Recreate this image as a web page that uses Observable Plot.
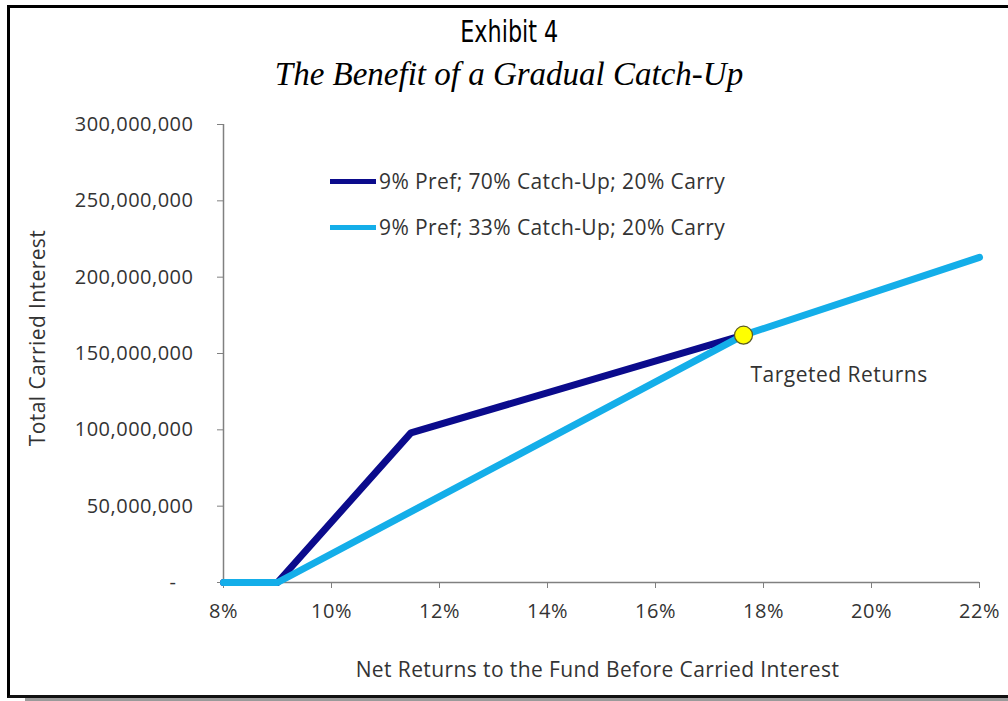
<!DOCTYPE html>
<html><head><meta charset="utf-8">
<script src="https://cdn.jsdelivr.net/npm/d3@7"></script>
<script src="https://cdn.jsdelivr.net/npm/@observablehq/plot@0.6"></script>
<style>
html,body{margin:0;padding:0;background:#fff;}
body{width:1008px;height:701px;overflow:hidden;position:relative;font-family:"Open Sans",sans-serif;color:#333;}
#frame{position:absolute;left:7px;top:5px;width:1010px;height:687px;border-left:3px solid #000;border-top:3px solid #000;border-bottom:3px solid #111;}
#shadow{position:absolute;left:25px;top:698px;width:990px;height:3px;background:#9a9a9a;}
#title{position:absolute;left:10px;width:998px;top:13px;text-align:center;color:#000;line-height:36px;}
#title span{display:inline-block;font-family:"DejaVu Sans Condensed","Liberation Sans Narrow",sans-serif;font-size:31px;transform:scaleX(0.8);transform-origin:center;}
#subtitle{position:absolute;left:10px;width:998px;top:55px;text-align:center;font-family:"Liberation Serif",serif;font-style:italic;font-size:33px;color:#000;line-height:38px;}
#chart{position:absolute;left:0;top:100px;}
#ytitle{position:absolute;left:37px;top:338px;transform:translate(-50%,-50%) rotate(-90deg);white-space:nowrap;font-size:21px;letter-spacing:0.4px;color:#333;}
#xtitle{position:absolute;left:0;width:1195px;top:655px;text-align:center;font-size:21px;letter-spacing:0.4px;color:#333;white-space:nowrap;}
.leg{position:absolute;left:330px;font-size:21px;letter-spacing:0.4px;color:#333;white-space:nowrap;display:flex;align-items:center;height:28px;}
.leg span.sw{display:inline-block;width:46px;height:5px;margin-right:3px;}
</style>
</head><body>
<div id="frame"></div>
<div id="shadow"></div>
<div id="title"><span>Exhibit 4</span></div>
<div id="subtitle">The Benefit of a Gradual Catch-Up</div>
<div id="chart"></div>
<div id="ytitle">Total Carried Interest</div>
<div id="xtitle">Net Returns to the Fund Before Carried Interest</div>
<div id="legend"></div>
<script>
// ---- data ----
const seriesNames = ["9% Pref; 70% Catch-Up; 20% Carry", "9% Pref; 33% Catch-Up; 20% Carry"];
const seriesColors = ["#0b0b8c", "#14aee9"];
const fastReturns = [8, 9, 11.47, 17.63];
const fastCarry = [0, 0, 98e6, 162e6];
const gradualReturns = [8, 9, 17.63, 22];
const gradualCarry = [0, 0, 162e6, 213e6];
const targetReturn = [17.63];
const targetCarry = [162e6];
const targetLabel = ["Targeted Returns"];
const xTicks = [8, 10, 12, 14, 16, 18, 20, 22];
const yTicks = [0, 50e6, 100e6, 150e6, 200e6, 250e6, 300e6];

const fast = fastReturns.map((r, i) => ({ret: r, carry: fastCarry[i]}));
const gradual = gradualReturns.map((r, i) => ({ret: r, carry: gradualCarry[i]}));
const target = targetReturn.map((r, i) => ({ret: r, carry: targetCarry[i], label: targetLabel[i]}));

const fmt = d3.format(",");
const xFmt = d => d + "%";
const yFmt = d => d === 0 ? "-\u00a0\u00a0\u00a0" : fmt(d);
const plot = Plot.plot({
  width: 1008,
  height: 590,
  marginLeft: 223,
  marginRight: 29,
  marginTop: 24,
  marginBottom: 108,
  style: {fontFamily: "'Open Sans', sans-serif", fontSize: "20px", letterSpacing: "0.5px", color: "#333", background: "transparent"},
  x: {domain: [8, 22], label: null},
  y: {domain: [0, 300e6], label: null},
  marks: [
    Plot.axisX({ticks: xTicks, tickFormat: xFmt, tickSize: 6, tickPadding: 15, stroke: "#808080", strokeOpacity: 1, fill: "#333", fontSize: 20, label: null}),
    Plot.axisY({ticks: yTicks, tickFormat: yFmt, tickSize: 6, tickPadding: 24, stroke: "#808080", strokeOpacity: 1, fill: "#333", fontSize: 20, label: null}),
    Plot.ruleY([0], {stroke: "#808080", strokeWidth: 1.5}),
    Plot.ruleX([8], {stroke: "#808080", strokeWidth: 1.5}),
    Plot.line(fast, {x: "ret", y: "carry", stroke: seriesColors[0], strokeWidth: 7, strokeLinejoin: "round"}),
    Plot.line(gradual, {x: "ret", y: "carry", stroke: seriesColors[1], strokeWidth: 7, strokeLinejoin: "round"}),
    Plot.dot(target, {x: "ret", y: "carry", r: 9, fill: "#ffff00", stroke: "#5a5a20", strokeWidth: 1.2}),
    Plot.text(target, {x: "ret", y: "carry", text: "label", textAnchor: "start", dx: 7, dy: 40, fontSize: 21, fill: "#333"})
  ]
});
document.getElementById("chart").appendChild(plot);

const legend = document.getElementById("legend");
seriesNames.forEach((name, i) => {
  const row = document.createElement("div");
  row.className = "leg";
  row.style.top = (167 + i * 46) + "px";
  row.innerHTML = `<span class="sw" style="background:${seriesColors[i]}"></span>${name}`;
  legend.appendChild(row);
});
</script>
</body></html>
